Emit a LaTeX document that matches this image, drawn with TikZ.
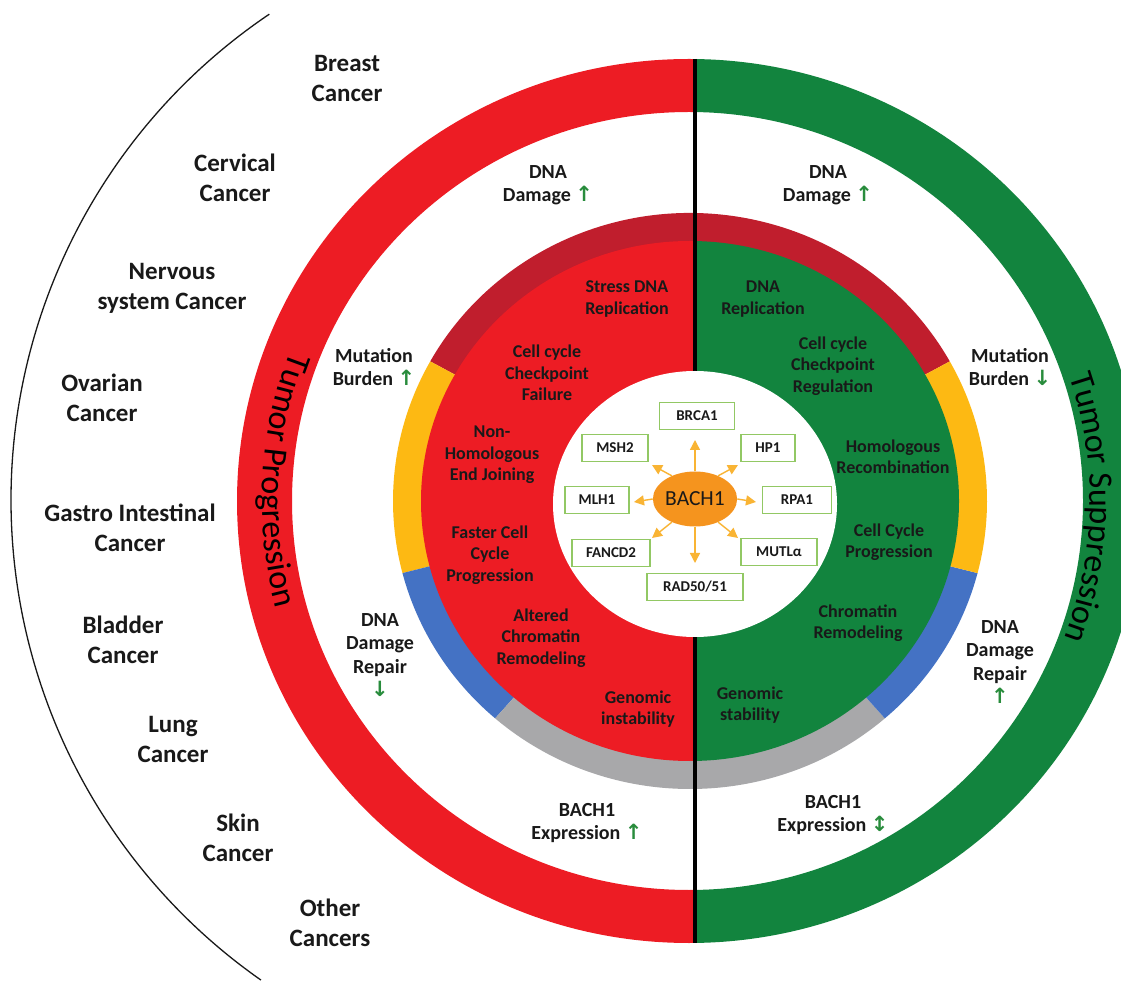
\documentclass[tikz,border=0pt]{standalone}
\usepackage{fontspec}
\setmainfont{Carlito}
\newfontfamily\arrfont{DejaVu Sans}
\usetikzlibrary{arrows.meta,decorations.text,shapes.geometric}
\definecolor{tred}{RGB}{237,28,36}
\definecolor{tgreen}{RGB}{18,132,62}
\definecolor{bdred}{RGB}{192,30,45}
\definecolor{byellow}{RGB}{253,185,19}
\definecolor{bblue}{RGB}{68,114,196}
\definecolor{bgrey}{RGB}{168,168,170}
\definecolor{boxgreen}{RGB}{146,200,100}
\definecolor{borange}{RGB}{245,148,30}
\definecolor{aorange}{RGB}{249,180,52}
\definecolor{agreen}{RGB}{40,140,60}
\definecolor{ink}{RGB}{25,25,25}
\newcommand\myup{{\arrfont\fontsize{21}{21}\selectfont\color{agreen}↑}}
\newcommand\mydown{{\arrfont\fontsize{21}{21}\selectfont\color{agreen}↓}}
\newcommand\myupdown{{\arrfont\fontsize{21}{21}\selectfont\color{agreen}↕}}
\begin{document}
\begin{tikzpicture}[x=1pt,y=1pt,
  cancer/.style={font=\fontsize{25}{30}\selectfont\bfseries, align=center, text=ink, inner sep=0pt},
  lab/.style={font=\fontsize{20}{23.5}\selectfont\bfseries, align=center, text=ink, inner sep=0pt},
  dsk/.style={font=\fontsize{18}{21.5}\selectfont\bfseries, align=center, text=ink, inner sep=0pt},
  gbox/.style={draw=boxgreen, line width=1.8pt, fill=white, minimum height=27pt, inner sep=0pt, text=ink, font=\fontsize{15}{15}\selectfont\bfseries},
  arr/.style={draw=aorange, line width=1.4pt, -{Triangle[length=10pt,width=10pt]}}
]
\useasboundingbox (0,0) rectangle (1121,983);
\fill[white] (0,0) rectangle (1121,983);

% outer thin arc
\draw[line width=1.3pt, ink] ([shift={(124:586pt)}]597,483) arc[start angle=124,end angle=235,radius=586pt];

% outer ring
\begin{scope}
\clip (0,0) rectangle (695,983);
\fill[tred,even odd rule] (689,482) ellipse[x radius=452pt,y radius=442pt] (689,482) ellipse[x radius=397pt,y radius=389pt];
\end{scope}
\begin{scope}
\clip (695,0) rectangle (1121,983);
\fill[tgreen,even odd rule] (689,482) ellipse[x radius=452pt,y radius=442pt] (689,482) ellipse[x radius=394pt,y radius=389pt];
\end{scope}

% band
\fill[bdred] (690,482) -- ([shift={(29:297pt and 288pt)}]690,482) arc[start angle=29,end angle=151,x radius=297pt,y radius=288pt] -- cycle;
\fill[byellow] (690,482) -- ([shift={(151:297pt and 288pt)}]690,482) arc[start angle=151,end angle=194.5,x radius=297pt,y radius=288pt] -- cycle;
\fill[bblue] (690,482) -- ([shift={(194.5:297pt and 288pt)}]690,482) arc[start angle=194.5,end angle=229,x radius=297pt,y radius=288pt] -- cycle;
\fill[bgrey] (690,482) -- ([shift={(229:297pt and 288pt)}]690,482) arc[start angle=229,end angle=311,x radius=297pt,y radius=288pt] -- cycle;
\fill[bblue] (690,482) -- ([shift={(311:297pt and 288pt)}]690,482) arc[start angle=311,end angle=345.5,x radius=297pt,y radius=288pt] -- cycle;
\fill[byellow] (690,482) -- ([shift={(345.5:297pt and 288pt)}]690,482) arc[start angle=345.5,end angle=389,x radius=297pt,y radius=288pt] -- cycle;

% inner disk
\begin{scope}
\clip (0,0) rectangle (695,983);
\fill[tred] (690,482) ellipse[x radius=269pt,y radius=260pt];
\end{scope}
\begin{scope}
\clip (695,0) rectangle (1121,983);
\fill[tgreen] (690,482) ellipse[x radius=269pt,y radius=260pt];
\end{scope}

% divider
\coordinate (ltop) at (695,924);
\coordinate (lbot) at (695,40);
\draw[line width=4pt, black] (ltop) -- (lbot);

% white centre
\fill[white] (695,479) ellipse[x radius=142pt,y radius=133pt];

% ring texts
\path[decorate, decoration={text along path, text align=center, text={|\fontsize{34}{34}\selectfont|Tumor Progression}}]
  ([shift={(141:427pt and 418pt)}]689,482) arc[start angle=141,end angle=213,x radius=427pt,y radius=418pt];
\path[decorate, decoration={text along path, text align=center, text={|\fontsize{34}{34}\selectfont|Tumor Suppression}}]
  ([shift={(36:401pt and 393pt)}]689,482) arc[start angle=36,end angle=-38,x radius=401pt,y radius=393pt];

% cancer labels
\node[cancer] (c1) at (347,905) {Breast\\Cancer};
\node[cancer] (c2) at (235,805) {Cervical\\Cancer};
\node[cancer] (c3) at (172,695) {Nervous\\system Cancer};
\node[cancer] (c4) at (102,585) {Ovarian\\Cancer};
\node[cancer] (c5) at (130,455) {Gastro Intestinal\\Cancer};
\node[cancer] (c6) at (123,343) {Bladder\\Cancer};
\node[cancer] (c7) at (173,244) {Lung\\Cancer};
\node[cancer] (c8) at (238,145) {Skin\\Cancer};
\node[cancer] (c9) at (330,60) {Other\\Cancers};

% white-area labels
\node[lab] (l1) at (548,798) {DNA\\Damage \myup};
\node[lab] (r1) at (828,798) {DNA\\Damage \myup};
\node[lab] (l2) at (374,616) {Mutation\\Burden \myup};
\node[lab] (r2) at (1010,616) {Mutation\\Burden \mydown};
\node[lab] (l3) at (380,328) {DNA\\Damage\\Repair\\\mydown};
\node[lab] (r3) at (1000,321) {DNA\\Damage\\Repair\\\myup};
\node[lab] (l4) at (587,160) {BACH1\\Expression \myup};
\node[lab] (r4) at (833,168) {BACH1\\Expression \myupdown};

% disk labels
\node[dsk] (d1) at (627,684) {Stress DNA\\Replication};
\node[dsk] (d2) at (547,610) {Cell cycle\\Checkpoint\\Failure};
\node[dsk] (d3) at (492,528) {Non-\\Homologous\\End Joining};
\node[dsk] (d4) at (490,428) {Faster Cell\\Cycle\\Progression};
\node[dsk] (d5) at (541,345) {Altered\\Chromatin\\Remodeling};
\node[dsk] (d6) at (638,274) {Genomic\\instability};
\node[dsk] (e1) at (763,684) {DNA\\Replication};
\node[dsk] (e2) at (833,617) {Cell cycle\\Checkpoint\\Regulation};
\node[dsk] (e3) at (893,526) {Homologous\\Recombination};
\node[dsk] (e4) at (889,441) {Cell Cycle\\Progression};
\node[dsk] (e5) at (858,360) {Chromatin\\Remodeling};
\node[dsk] (e6) at (750,278) {Genomic\\stability};

% centre cluster
\node[ellipse, fill=borange, minimum width=84pt, minimum height=55pt, inner sep=0pt, text=ink, font=\fontsize{21.5}{21.5}\selectfont] (bach) at (695,484) {BACH1};
\node[gbox, minimum width=75pt] (brca) at (697,567) {BRCA1};
\node[gbox, minimum width=66pt] (msh) at (615,535) {MSH2};
\node[gbox, minimum width=54pt] (hp) at (768,535) {HP1};
\node[gbox, minimum width=64pt] (mlh) at (597,483) {MLH1};
\node[gbox, minimum width=69pt] (rpa) at (797,483) {RPA1};
\node[gbox, minimum width=78pt] (fan) at (611,430) {FANCD2};
\node[gbox, minimum width=76pt] (mut) at (779,431) {MUTLα};
\node[gbox, minimum width=96pt] (rad) at (695,396) {RAD50/51};

\coordinate (t1) at (695,543);
\coordinate (t2) at (738,518);
\coordinate (t3) at (756,481);
\coordinate (t4) at (738,445);
\coordinate (t5) at (695,420);
\coordinate (t6) at (652,445);
\coordinate (t7) at (634,481);
\coordinate (t8) at (652,518);
\draw[arr] (bach.90) -- (t1);
\draw[arr] (bach.45) -- (t2);
\draw[arr] (bach.0) -- (t3);
\draw[arr] (bach.-45) -- (t4);
\draw[arr] (bach.-90) -- (t5);
\draw[arr] (bach.-135) -- (t6);
\draw[arr] (bach.180) -- (t7);
\draw[arr] (bach.135) -- (t8);
\end{tikzpicture}
\end{document}
